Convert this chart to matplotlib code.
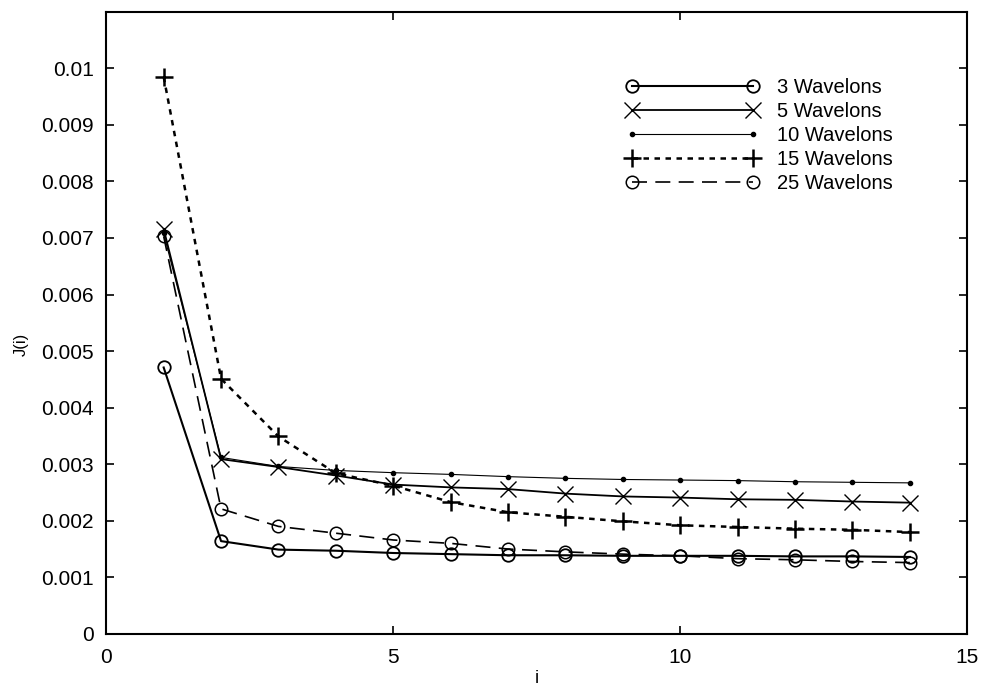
import numpy as np
import matplotlib.pyplot as plt

# iteration index
i = np.arange(1, 15)

# J(i) values
j_3 = [0.00471, 0.00164, 0.00149, 0.00147, 0.00143, 0.00141, 0.00139, 0.00139,
       0.00138, 0.00138, 0.00138, 0.00137, 0.00137, 0.00136]
j_5 = [0.00716, 0.00309, 0.00295, 0.00280, 0.00264, 0.00259, 0.00256, 0.00248,
       0.00243, 0.00241, 0.00238, 0.00237, 0.00234, 0.00232]
j_10 = [0.00708, 0.00312, 0.00296, 0.00289, 0.00285, 0.00282, 0.00278, 0.00275,
        0.00273, 0.00272, 0.00271, 0.00269, 0.00268, 0.00267]
j_15 = [0.00985, 0.00451, 0.00349, 0.00284, 0.00262, 0.00233, 0.00215, 0.00207,
        0.00199, 0.00192, 0.00189, 0.00186, 0.00184, 0.00180]
j_25 = [0.00703, 0.00221, 0.00190, 0.00178, 0.00166, 0.00160, 0.00150, 0.00145,
        0.00141, 0.00138, 0.00133, 0.00131, 0.00128, 0.00126]

labels = ['3 Wavelons', '5 Wavelons', '10 Wavelons', '15 Wavelons', '25 Wavelons']
yticks = np.arange(0, 0.0105, 0.001)
ytick_labels = ['0', '0.001', '0.002', '0.003', '0.004', '0.005', '0.006',
                '0.007', '0.008', '0.009', '0.01']
xticks = [0, 5, 10, 15]

plt.rcParams['font.family'] = ['Liberation Sans', 'DejaVu Sans']

fig = plt.figure(figsize=(9.84, 6.92), dpi=100)
ax = fig.add_axes([0.108, 0.084, 0.875, 0.899])

ax.plot(i, j_3, '-', color='black', lw=1.5, marker='o', ms=9, mfc='none', mew=1.3, label=labels[0])
ax.plot(i, j_5, '-', color='black', lw=1.3, marker='x', ms=12, mew=1.0, label=labels[1])
ax.plot(i, j_10, '-', color='black', lw=0.8, marker='.', ms=6, label=labels[2])
ax.plot(i, j_15, color='black', lw=1.8, ls=(0, (2.2, 2.2)), marker='+', ms=13, mew=1.8, label=labels[3])
ax.plot(i, j_25, color='black', lw=1.2, ls=(0, (9, 5)), marker='o', ms=9, mfc='none', mew=1.1, label=labels[4])

ax.set_xlim(0, 15)
ax.set_ylim(0, 0.011)
ax.set_xticks(xticks)
ax.set_yticks(yticks)
ax.set_yticklabels(ytick_labels)
ax.tick_params(direction='in', right=True, top=True, labelsize=15, length=6, width=1.2)
ax.tick_params(axis='y', pad=9)
ax.tick_params(axis='x', pad=10)
for s in ax.spines.values():
    s.set_linewidth(1.5)

ax.set_xlabel('i', fontsize=13)
ax.xaxis.set_label_coords(0.5, -0.058)
ax.set_ylabel('J(i)', fontsize=12)
ax.yaxis.set_label_coords(-0.09, 0.465)

ax.legend(loc='upper right', bbox_to_anchor=(0.914, 0.894), borderpad=0, borderaxespad=0,
          frameon=False, numpoints=2, handlelength=6.6, fontsize=14.5,
          labelspacing=0.25, handletextpad=0.9)

fig.savefig('out.png', dpi=100)
